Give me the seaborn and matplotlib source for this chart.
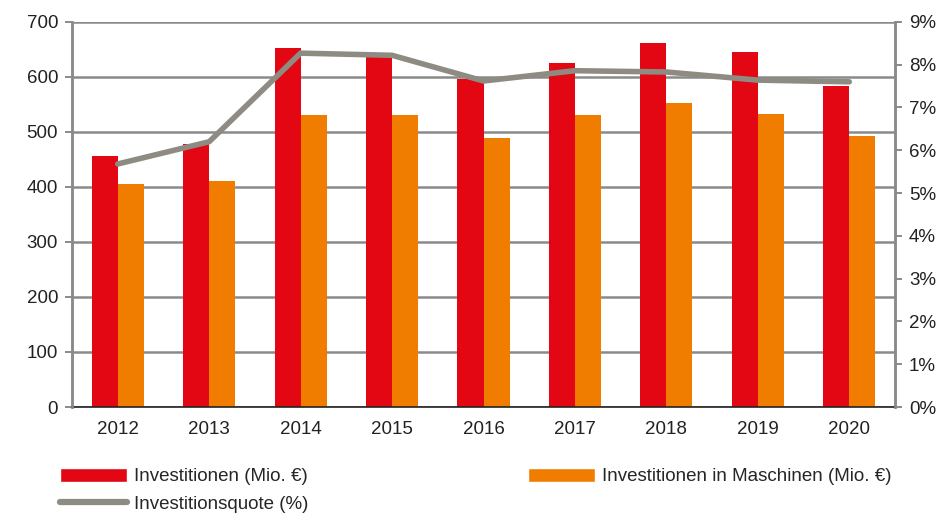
import seaborn as sns
import matplotlib.pyplot as plt
import pandas as pd
from matplotlib.patches import Patch
from matplotlib.lines import Line2D
from matplotlib.ticker import FixedLocator, FuncFormatter

# data
years = ['2012', '2013', '2014', '2015', '2016', '2017', '2018', '2019', '2020']
investitionen = [456, 478, 653, 636, 596, 625, 662, 645, 584]
maschinen = [406, 411, 531, 531, 489, 531, 553, 533, 492]
quote = [5.68, 6.2, 8.27, 8.22, 7.62, 7.86, 7.83, 7.64, 7.6]

series_names = ['Investitionen (Mio. €)', 'Investitionen in Maschinen (Mio. €)']
line_name = 'Investitionsquote (%)'

red = '#e30613'
orange = '#f07d00'
grey_line = '#8e8c82'
grid_grey = '#8a8a8a'

df = pd.DataFrame({
    'Jahr': years * 2,
    'Wert': investitionen + maschinen,
    'Serie': [series_names[0]] * len(years) + [series_names[1]] * len(years),
})

sns.set_style('white')
plt.rcParams['font.family'] = ['Liberation Sans Narrow', 'Liberation Sans', 'DejaVu Sans']
plt.rcParams['font.size'] = 13

fig = plt.figure(figsize=(9.5, 5.22), dpi=100)
ax = fig.add_axes([0.0758, 0.2203, 0.8663, 0.7377])

sns.barplot(data=df, x='Jahr', y='Wert', hue='Serie', order=years,
            palette=[red, orange], width=0.57, gap=0, saturation=1,
            linewidth=0, legend=False, ax=ax)
ax.set_xlim(-0.5, len(years) - 0.5)
ax.set_ylim(0, 700)
ax.set_yticks(range(0, 701, 100))
ax.set_xlabel('')
ax.set_ylabel('')
ax.yaxis.grid(True, color=grid_grey, linewidth=1.8)
ax.set_axisbelow(True)

for side in ['left', 'right']:
    ax.spines[side].set_color(grid_grey)
    ax.spines[side].set_linewidth(1.8)
ax.spines['top'].set_visible(False)
ax.spines['bottom'].set_color('#222222')
ax.spines['bottom'].set_linewidth(1.2)

# category boundary ticks on x axis
ax.xaxis.set_minor_locator(FixedLocator([i - 0.5 for i in range(len(years) + 1)]))
ax.tick_params(axis='x', which='major', length=0, pad=10, labelsize=13.5, colors='#222222')
ax.tick_params(axis='x', which='minor', length=6, width=1.2, direction='out', color='#222222')
ax.tick_params(axis='y', length=5, width=1.4, color=grid_grey, pad=5,
               labelsize=13.5, labelcolor='#222222', left=True)

ax2 = ax.twinx()
sns.pointplot(x=years, y=quote, order=years, color=grey_line, markers='',
              linewidth=4, ax=ax2)
ax2.set_xlim(-0.5, len(years) - 0.5)
ax2.set_ylim(0, 9)
ax2.set_yticks(range(0, 10))
ax2.yaxis.set_major_formatter(FuncFormatter(lambda v, p: f'{int(v)}%'))
ax2.tick_params(axis='y', length=5, width=1.4, color=grid_grey, pad=5,
                labelsize=13.5, labelcolor='#222222', right=True)
for side in ['left', 'right']:
    ax2.spines[side].set_color(grid_grey)
    ax2.spines[side].set_linewidth(1.8)
ax2.spines['top'].set_visible(False)
ax2.spines['bottom'].set_visible(False)
ax2.set_ylabel('')

handles = [
    Patch(facecolor=red, label=series_names[0]),
    Line2D([0], [0], color=grey_line, linewidth=4.5, solid_capstyle='round', label=line_name),
    Patch(facecolor=orange, label=series_names[1]),
]
fig.legend(handles=handles, ncol=2, loc='upper left', bbox_to_anchor=(0.055, 0.118),
           frameon=False, fontsize=13.5, handlelength=3.6, handleheight=0.75,
           handletextpad=0.35, columnspacing=11.7, labelspacing=0.55, borderaxespad=0)

fig.savefig('out.png', dpi=100)
